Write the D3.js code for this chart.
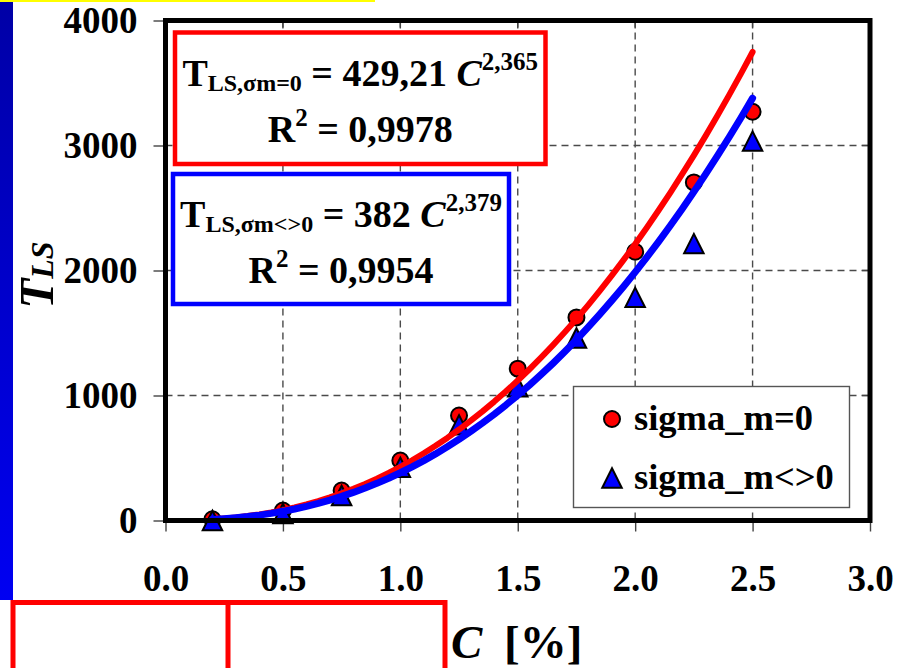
<!DOCTYPE html>
<html>
<head>
<meta charset="utf-8">
<script src="https://cdn.jsdelivr.net/npm/d3@7"></script>
<style>
  html, body { margin: 0; padding: 0; background: #fff; }
  svg { display: block; font-family: "Liberation Serif", "Times New Roman", serif; font-weight: bold; }
</style>
</head>
<body>
<svg id="chart" width="914" height="668"></svg>
<script>
// T_LS vs C : measured points for two sigma_m cases, with their power-law fits.

const cValues = [0.2, 0.5, 0.75, 1.0, 1.25, 1.5, 1.75, 2.0, 2.25, 2.5];
const tlsSigma0 = [10, 80, 240, 480, 840, 1215, 1625, 2150, 2705, 3270];
const tlsSigmaNon0 = [0, 56, 200, 425, 765, 1070, 1460, 1785, 2215, 3035];

// fit T = a * C^b, as printed in the boxes
const fitSigma0 = [429.21, 2.365];
const fitSigmaNon0 = [382, 2.379];

const xTicks = [0, 0.5, 1.0, 1.5, 2.0, 2.5, 3.0];
const yTicks = [0, 1000, 2000, 3000, 4000];

const svg = d3.select("#chart");

const x = d3.scaleLinear().domain([0, 3]).range([165.5, 870]);
const y = d3.scaleLinear().domain([0, 4000]).range([520.5, 20.5]);

// --- decorations around the chart (slide leftovers)
const grad = svg.append("defs").append("linearGradient")
  .attr("id", "sideBar").attr("x1", 0).attr("y1", 0).attr("x2", 0).attr("y2", 1);
grad.append("stop").attr("offset", "0%").attr("stop-color", "#0000a6");
grad.append("stop").attr("offset", "100%").attr("stop-color", "#0000f2");
svg.append("rect").attr("x", 0).attr("y", 0).attr("width", 13).attr("height", 600)
  .attr("fill", "url(#sideBar)");
svg.append("rect").attr("x", 0).attr("y", 0).attr("width", 375).attr("height", 2)
  .attr("fill", "#ffff00");
svg.append("path")
  .attr("d", "M13,680 V602.5 H445 V680 M228,602.5 V680")
  .attr("fill", "none").attr("stroke", "#ff0000").attr("stroke-width", 5);

// --- grid
const grid = svg.append("g").attr("stroke", "#4a4a4a").attr("stroke-width", 1.4)
  .attr("stroke-dasharray", "7,5");
grid.selectAll(".vgrid").data(xTicks.filter((d) => d > 0 && d < 3)).join("line")
  .attr("class", "vgrid")
  .attr("x1", (d) => x(d)).attr("x2", (d) => x(d))
  .attr("y1", y(4000)).attr("y2", y(0));
grid.selectAll(".hgrid").data(yTicks.filter((d) => d > 0 && d < 4000)).join("line")
  .attr("class", "hgrid")
  .attr("x1", x(0)).attr("x2", x(3))
  .attr("y1", (d) => y(d)).attr("y2", (d) => y(d));

// mirror ticks on top and right
svg.append("g").selectAll("line").data(xTicks.slice(1, -1)).join("line")
  .attr("x1", (d) => x(d)).attr("x2", (d) => x(d))
  .attr("y1", y(4000)).attr("y2", y(4000) + 8)
  .attr("stroke", "#444").attr("stroke-width", 1.4);
svg.append("g").selectAll("line").data(yTicks.slice(1, -1)).join("line")
  .attr("x1", x(3) - 8).attr("x2", x(3))
  .attr("y1", (d) => y(d)).attr("y2", (d) => y(d))
  .attr("stroke", "#444").attr("stroke-width", 1.4);

// --- axes
const yAxis = svg.append("g").attr("transform", `translate(${x(0)},0)`)
  .call(d3.axisLeft(y).tickValues(yTicks).tickSize(12).tickPadding(16).tickFormat(d3.format("d")));
const xAxis = svg.append("g").attr("transform", `translate(0,${y(0)})`)
  .call(d3.axisBottom(x).tickValues(xTicks).tickSize(11).tickPadding(33).tickFormat(d3.format(".1f")));
[xAxis, yAxis].forEach((ax) => {
  ax.select(".domain").remove();
  ax.selectAll(".tick line").attr("stroke", "#444").attr("stroke-width", 1.4);
  ax.selectAll(".tick text")
    .attr("fill", "#000")
    .style("font-size", "37px")
    .style("font-family", "'Liberation Serif', 'Times New Roman', serif")
    .style("font-weight", "bold");
});

// --- markers
const tri = {
  draw(ctx, size) {
    const w = Math.sqrt(size);
    ctx.moveTo(0, -w / 2);
    ctx.lineTo(w / 2, w / 2);
    ctx.lineTo(-w / 2, w / 2);
    ctx.closePath();
  },
};
svg.append("g").selectAll("circle").data(cValues).join("circle")
  .attr("cx", (d) => x(d))
  .attr("cy", (d, i) => y(tlsSigma0[i]))
  .attr("r", 8)
  .attr("fill", "#ff0000").attr("stroke", "#000").attr("stroke-width", 2);
svg.append("g").selectAll("path").data(cValues).join("path")
  .attr("transform", (d, i) => `translate(${x(d)},${y(tlsSigmaNon0[i])})`)
  .attr("d", d3.symbol().type(tri).size(380))
  .attr("fill", "#0000ff").attr("stroke", "#000").attr("stroke-width", 2);

// --- trend lines
const cRange = d3.range(0.2, 2.5001, 0.05);
const line = d3.line().x((d) => x(d[0])).y((d) => y(d[1]));
[[fitSigma0, "#ff0000", 6], [fitSigmaNon0, "#0000ff", 7]].forEach(([fit, color, w]) => {
  svg.append("path")
    .datum(cRange.map((c) => [c, fit[0] * Math.pow(c, fit[1])]))
    .attr("d", line)
    .attr("fill", "none").attr("stroke", color).attr("stroke-width", w)
    .attr("stroke-linecap", "round").attr("stroke-linejoin", "round");
});

// --- plot frame
svg.append("rect")
  .attr("x", x(0)).attr("y", y(4000))
  .attr("width", x(3) - x(0)).attr("height", y(0) - y(4000))
  .attr("fill", "none").attr("stroke", "#000").attr("stroke-width", 5);

// --- equation boxes
function richText(g, cx, baseline, parts) {
  const t = g.append("text").attr("x", cx).attr("y", baseline)
    .attr("text-anchor", "middle").attr("fill", "#000");
  let shift = 0;
  parts.forEach((p) => {
    const s = p.shift || 0;
    t.append("tspan")
      .attr("dy", s - shift)
      .style("font-size", `${p.size}px`)
      .style("font-style", p.italic ? "italic" : "normal")
      .text(p.t);
    shift = s;
  });
  return t;
}

function eqBox(box, color, subText, coef, expText, r2Text) {
  const g = svg.append("g");
  g.append("rect")
    .attr("x", box[0]).attr("y", box[1])
    .attr("width", box[2] - box[0]).attr("height", box[3] - box[1])
    .attr("fill", "#fff").attr("stroke", color).attr("stroke-width", 4.5);
  const cx = (box[0] + box[2]) / 2;
  richText(g, cx, box[1] + 53, [
    { t: "T", size: 38 },
    { t: subText, size: 24, shift: 5 },
    { t: ` = ${coef} `, size: 38 },
    { t: "C", size: 38, italic: true },
    { t: expText, size: 25, shift: -16 },
  ]);
  richText(g, cx, box[1] + 109, [
    { t: "R", size: 38 },
    { t: "2", size: 25, shift: -16 },
    { t: ` = ${r2Text}`, size: 38 },
  ]);
}
eqBox([175, 32.5, 545.5, 164], "#ff0000", "LS,σm=0", "429,21", "2,365", "0,9978");
eqBox([173, 174, 509, 304], "#0000ff", "LS,σm<>0", "382", "2,379", "0,9954");

// --- legend
const legend = svg.append("g");
legend.append("rect").attr("x", 573.5).attr("y", 386.5).attr("width", 276).attr("height", 121)
  .attr("fill", "#fff").attr("stroke", "#555").attr("stroke-width", 1.4);
legend.append("circle").attr("cx", 612).attr("cy", 419).attr("r", 8)
  .attr("fill", "#ff0000").attr("stroke", "#000").attr("stroke-width", 2);
legend.append("path").attr("transform", "translate(612,478)")
  .attr("d", d3.symbol().type(tri).size(380))
  .attr("fill", "#0000ff").attr("stroke", "#000").attr("stroke-width", 2);
legend.append("text").attr("x", 634).attr("y", 430).style("font-size", "36.5px").text("sigma_m=0");
legend.append("text").attr("x", 634).attr("y", 489).style("font-size", "36.5px").text("sigma_m<>0");

// --- axis titles
const yTitle = svg.append("text")
  .attr("transform", "translate(53,275) rotate(-90)")
  .attr("text-anchor", "middle").style("font-style", "italic");
yTitle.append("tspan").style("font-size", "49px").text("T");
yTitle.append("tspan").style("font-size", "32px").text("LS");

const xTitle = svg.append("text").attr("x", 451).attr("y", 658);
xTitle.append("tspan").style("font-size", "47px").style("font-style", "italic").text("C");
xTitle.append("tspan").attr("dx", 10).style("font-size", "47px").text(" [%]");
</script>
</body>
</html>
